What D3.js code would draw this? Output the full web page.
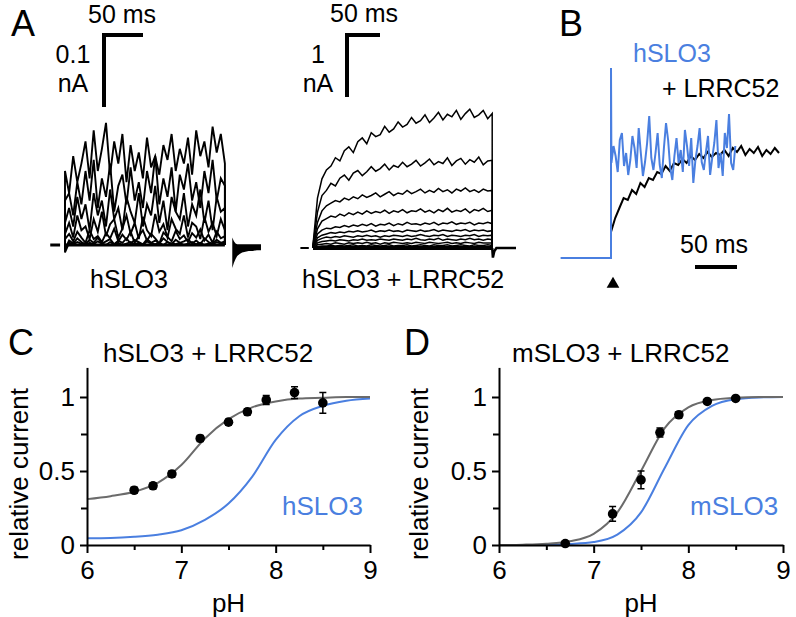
<!DOCTYPE html>
<html>
<head>
<meta charset="utf-8">
<script src="https://cdn.jsdelivr.net/npm/d3@7"></script>
<style>
  body { margin: 0; background: #fff; }
  svg { display: block; }
  text { font-family: "Liberation Sans", Arial, Helvetica, sans-serif; }
</style>
</head>
<body>
<div id="chart"></div>
<script>
// ---------- data ----------

// panel A, hSLO3 alone: currents in pA, one sample every 5 ms
var hsloDt = 5;
var hsloTraces = [
  [100, 70, 120, 85, 110, 140, 90, 155, 100, 130, 165, 95, 140, 110, 150, 85, 135, 100, 125, 90, 145, 105, 120, 95, 135, 115, 150, 100, 130, 110, 145, 95, 155, 120, 140, 105, 160, 125, 150, 110],
  [60, 70, 40, 85, 55, 100, 60, 115, 50, 90, 65, 110, 45, 80, 95, 55, 105, 60, 85, 50, 100, 70, 120, 55, 90, 65, 105, 45, 95, 75, 110, 60, 85, 50, 100, 70, 115, 60, 90, 80],
  [30, 50, 25, 65, 35, 55, 20, 70, 40, 60, 25, 75, 35, 50, 20, 65, 45, 30, 70, 25, 55, 40, 80, 30, 60, 20, 65, 45, 35, 70, 25, 55, 40, 75, 30, 60, 20, 65, 45, 50],
  [15, 30, 10, 40, 20, 25, 8, 35, 18, 45, 12, 28, 35, 10, 22, 40, 15, 30, 8, 38, 20, 12, 42, 18, 28, 10, 35, 22, 15, 40, 10, 30, 25, 8, 38, 18, 30, 12, 35, 20],
  [8, 15, 5, 18, 10, 3, 20, 8, 12, 4, 16, 9, 22, 5, 14, 7, 18, 3, 12, 20, 6, 15, 9, 2, 17, 11, 5, 19, 8, 13, 4, 16, 10, 21, 6, 14, 3, 18, 9, 12],
  [-6, 6, 2, 9, 4, 1, 7, 3, 10, 2, 5, 8, 1, 6, 3, 9, 2, 7, 4, 1, 8, 3, 6, 2, 9, 4, 1, 7, 3, 5, 8, 2, 6, 1, 9, 4, 2, 7, 3, 5],
  [-10, 3, 1, 4, 2, 0, 3, 1, 5, 2, 0, 4, 1, 3, 0, 2, 4, 1, 3, 0, 5, 2, 1, 3, 0, 4, 2, 1, 3, 0, 2, 4, 1, 3, 0, 2, 1, 4, 2, 3]
];
// tail currents after the step (ms after 204 ms, pA)
var hsloTailStart = 204;
var hsloTailT = [0, 2, 4, 6, 9, 12, 16, 20, 25, 30, 35];
var hsloTailTop = [10, 5, 2, 1, 1, 1, 1, 1, 1, 1, 1];
var hsloTailBottom = [-31, -24, -19, -15, -12, -10, -9, -8, -8, -7, -7];

// panel A, hSLO3 + LRRC52: currents in nA, one sample every 6.4 ms
var lrrcDt = 6.4;
var lrrcTraces = [
  [0.05, 0.78, 1.08, 1.22, 1.28, 1.41, 1.36, 1.52, 1.58, 1.49, 1.66, 1.72, 1.63, 1.80, 1.74, 1.77, 1.90, 1.81, 1.86, 1.97, 1.89, 1.93, 2.04, 1.95, 1.99, 2.08, 1.96, 2.03, 2.12, 2.00, 2.09, 2.05, 2.15, 2.01, 2.10, 2.17, 2.04, 2.08, 2.15, 2.02, 2.10],
  [0.05, 0.56, 0.82, 0.90, 1.01, 0.97, 1.09, 1.14, 1.06, 1.17, 1.21, 1.13, 1.19, 1.27, 1.20, 1.24, 1.31, 1.22, 1.29, 1.26, 1.34, 1.27, 1.31, 1.37, 1.28, 1.33, 1.39, 1.30, 1.35, 1.32, 1.41, 1.29, 1.36, 1.40, 1.31, 1.38, 1.34, 1.42, 1.30, 1.36, 1.37],
  [0.03, 0.40, 0.58, 0.66, 0.70, 0.74, 0.72, 0.78, 0.75, 0.80, 0.77, 0.83, 0.79, 0.82, 0.86, 0.80, 0.84, 0.88, 0.82, 0.86, 0.84, 0.90, 0.85, 0.88, 0.92, 0.86, 0.90, 0.87, 0.93, 0.88, 0.91, 0.86, 0.92, 0.89, 0.94, 0.88, 0.91, 0.87, 0.92, 0.89, 0.90],
  [0.02, 0.30, 0.42, 0.46, 0.50, 0.48, 0.53, 0.50, 0.55, 0.52, 0.56, 0.53, 0.58, 0.54, 0.57, 0.55, 0.59, 0.54, 0.58, 0.56, 0.60, 0.55, 0.58, 0.57, 0.61, 0.56, 0.59, 0.55, 0.60, 0.57, 0.62, 0.56, 0.59, 0.57, 0.61, 0.55, 0.60, 0.58, 0.62, 0.57, 0.59],
  [0.02, 0.22, 0.28, 0.31, 0.30, 0.33, 0.32, 0.35, 0.33, 0.36, 0.34, 0.37, 0.35, 0.38, 0.34, 0.37, 0.36, 0.39, 0.35, 0.38, 0.36, 0.40, 0.37, 0.38, 0.36, 0.39, 0.37, 0.40, 0.36, 0.39, 0.38, 0.41, 0.37, 0.39, 0.38, 0.40, 0.36, 0.39, 0.38, 0.40, 0.38],
  [0.01, 0.16, 0.20, 0.22, 0.24, 0.23, 0.25, 0.24, 0.26, 0.25, 0.27, 0.25, 0.26, 0.28, 0.25, 0.27, 0.26, 0.28, 0.26, 0.27, 0.25, 0.28, 0.27, 0.26, 0.28, 0.26, 0.27, 0.29, 0.26, 0.28, 0.27, 0.26, 0.28, 0.27, 0.29, 0.26, 0.28, 0.27, 0.28, 0.26, 0.27],
  [0.01, 0.12, 0.15, 0.17, 0.16, 0.18, 0.17, 0.19, 0.18, 0.17, 0.19, 0.18, 0.20, 0.18, 0.19, 0.17, 0.19, 0.18, 0.20, 0.19, 0.18, 0.20, 0.18, 0.19, 0.21, 0.19, 0.18, 0.20, 0.19, 0.21, 0.18, 0.20, 0.19, 0.18, 0.20, 0.19, 0.21, 0.18, 0.20, 0.19, 0.20],
  [0.01, 0.08, 0.10, 0.11, 0.12, 0.11, 0.13, 0.12, 0.11, 0.13, 0.12, 0.14, 0.12, 0.13, 0.12, 0.14, 0.13, 0.12, 0.14, 0.13, 0.12, 0.14, 0.13, 0.15, 0.13, 0.12, 0.14, 0.13, 0.15, 0.12, 0.14, 0.13, 0.12, 0.14, 0.13, 0.15, 0.13, 0.14, 0.12, 0.14, 0.13],
  [0, 0.05, 0.06, 0.07, 0.06, 0.08, 0.07, 0.06, 0.08, 0.07, 0.08, 0.07, 0.09, 0.07, 0.08, 0.06, 0.08, 0.07, 0.09, 0.08, 0.07, 0.08, 0.07, 0.09, 0.08, 0.07, 0.09, 0.08, 0.07, 0.08, 0.09, 0.07, 0.08, 0.07, 0.09, 0.08, 0.07, 0.09, 0.08, 0.08, 0.08],
  [0, 0.02, 0.03, 0.03, 0.04, 0.03, 0.04, 0.03, 0.04, 0.05, 0.03, 0.04, 0.03, 0.05, 0.04, 0.03, 0.04, 0.05, 0.03, 0.04, 0.04, 0.05, 0.03, 0.04, 0.05, 0.04, 0.03, 0.05, 0.04, 0.04, 0.05, 0.03, 0.04, 0.05, 0.04, 0.03, 0.05, 0.04, 0.04, 0.05, 0.04]
];
var lrrcTailT = [0, 1, 3, 6, 34];
var lrrcTailV = [0, -0.15, -0.05, 0, 0];

// panel B: normalised currents, blue every 2.5 ms, black every 5 ms
var bSpike = 1.9;
var bBlueDt = 2.5;
var bBlue = [0.95, 1.12, 1.02, 0.86, 1.18, 1.25, 0.92, 1.05, 0.83, 0.98, 1.22, 1.10, 0.90, 1.30, 1.05, 0.82, 0.96, 1.15, 1.42, 1.00,
             0.88, 1.05, 1.25, 0.93, 0.80, 1.10, 1.35, 1.18, 0.90, 0.78, 1.02, 1.20, 0.95, 1.08, 0.86, 1.28, 1.12, 0.92, 1.20, 0.75,
             0.98, 1.12, 1.30, 0.96, 0.88, 1.06, 1.22, 0.83, 1.00, 1.15, 1.38, 0.90, 1.05, 0.82, 1.25, 1.10, 1.44, 0.95, 0.88, 1.12];
var bBlackDt = 5;
var bBlack = [0.26, 0.40, 0.50, 0.60, 0.58, 0.68, 0.64, 0.75, 0.71, 0.80, 0.78, 0.86, 0.84, 0.92, 0.87, 0.95, 0.93, 0.99, 0.95, 1.02,
              0.98, 1.04, 1.00, 1.06, 1.01, 1.05, 1.03, 1.08, 1.02, 1.10, 1.06, 1.12, 1.03, 1.09, 1.05, 1.11, 1.02, 1.08, 1.04, 1.10, 1.05];

// panels C and D: pH dependence
var fitPH = [6, 6.25, 6.5, 6.75, 7, 7.25, 7.5, 7.75, 8, 8.25, 8.5, 8.75, 9];
var hFitLrrc = [0.31, 0.33, 0.36, 0.42, 0.54, 0.72, 0.85, 0.93, 0.97, 0.99, 0.995, 1.0, 1.0];
var hFitAlone = [0.045, 0.047, 0.055, 0.07, 0.10, 0.17, 0.28, 0.46, 0.71, 0.87, 0.94, 0.975, 0.99];
var mFitLrrc = [0, 0.002, 0.008, 0.025, 0.075, 0.22, 0.50, 0.79, 0.93, 0.98, 0.995, 1.0, 1.0];
var mFitAlone = [0, 0, 0.002, 0.007, 0.02, 0.07, 0.22, 0.52, 0.81, 0.94, 0.985, 0.997, 1.0];

var hPH = [6.5, 6.7, 6.9, 7.2, 7.5, 7.7, 7.9, 8.2, 8.5];
var hMean = [0.37, 0.40, 0.48, 0.72, 0.83, 0.90, 0.98, 1.03, 0.96];
var hErr = [0.02, 0.02, 0.02, 0.02, 0.02, 0.02, 0.03, 0.04, 0.07];
var mPH = [6.7, 7.2, 7.5, 7.7, 7.9, 8.2, 8.5];
var mMean = [0.01, 0.21, 0.44, 0.76, 0.88, 0.97, 0.99];
var mErr = [0.01, 0.05, 0.06, 0.03, 0.02, 0.01, 0.01];

var xTicks = [6, 7, 8, 9];
var xMinor = [6.5, 7.5, 8.5];
var yTicks = [0, 0.5, 1];
var yMinor = [0.25, 0.75];

// ---------- drawing ----------
var W = 796, H = 617;
var blue = "#4a7fe0", grey = "#6b6b6b";

var svg = d3.select("#chart").append("svg")
    .attr("width", W)
    .attr("height", H);
svg.append("rect").attr("width", W).attr("height", H).attr("fill", "#fff");

function txt(x, y, s, size, anchor, color) {
    return svg.append("text")
        .attr("x", x).attr("y", y)
        .attr("font-size", size)
        .attr("text-anchor", anchor || "start")
        .attr("fill", color || "#000")
        .text(s);
}

// step traces: start and end on the baseline
function stepPoints(vals, dt) {
    var pts = [[0, 0]];
    vals.forEach(function(v, i){ pts.push([i * dt, v]); });
    pts.push([(vals.length - 1) * dt, 0]);
    return pts;
}

// ---- A left ----
var xA1 = d3.scaleLinear().domain([0, 50]).range([65, 106]);
var yA1 = d3.scaleLinear().domain([0, 100]).range([245, 171]);
var lineA1 = d3.line().x(function(d){ return xA1(d[0]); }).y(function(d){ return yA1(d[1]); });

var gA1 = svg.append("g").attr("fill", "none").attr("stroke", "#000");
hsloTraces.slice().reverse().forEach(function(tr){
    gA1.append("path").attr("d", lineA1(stepPoints(tr, hsloDt))).attr("stroke-width", 1.9);
});
var hEnd = (hsloTraces[0].length - 1) * hsloDt;
gA1.append("path").attr("d", lineA1([[0, 0], [hEnd, 0]])).attr("stroke-width", 3);
gA1.append("path").attr("d", lineA1([[-18, 0], [-6, 0]])).attr("stroke-width", 3);

svg.append("path")
    .attr("fill", "#000")
    .attr("d", d3.area()
        .x(function(d, i){ return xA1(hsloTailStart + d); })
        .y0(function(d, i){ return yA1(hsloTailBottom[i]); })
        .y1(function(d, i){ return yA1(hsloTailTop[i]); })(hsloTailT));

// scale bar 50 ms / 0.1 nA
var a1W = xA1(50) - xA1(0), a1H = yA1(0) - yA1(100);
svg.append("path")
    .attr("d", "M104," + (35 + a1H - 2) + "V35H" + (102 + a1W))
    .attr("fill", "none").attr("stroke", "#000").attr("stroke-width", 4);
txt(88, 23, "50 ms", 25);
txt(73, 63, "0.1", 25, "middle");
txt(73, 92, "nA", 25, "middle");
txt(90, 288, "hSLO3", 25);

// ---- A right ----
var xA2 = d3.scaleLinear().domain([0, 50]).range([313, 348]);
var yA2 = d3.scaleLinear().domain([0, 1]).range([248, 184]);
var lineA2 = d3.line().x(function(d){ return xA2(d[0]); }).y(function(d){ return yA2(d[1]); });

var gA2 = svg.append("g").attr("fill", "none").attr("stroke", "#000");
lrrcTraces.forEach(function(tr){
    gA2.append("path").attr("d", lineA2(stepPoints(tr, lrrcDt))).attr("stroke-width", 1.5);
});
var lEnd = (lrrcTraces[0].length - 1) * lrrcDt;
gA2.append("path").attr("d", lineA2([[0, 0], [lEnd, 0]])).attr("stroke-width", 4);
gA2.append("path").attr("d", lineA2([[-18, 0], [-6, 0]])).attr("stroke-width", 2);
gA2.append("path").attr("d", lineA2(lrrcTailT.map(function(t, i){ return [lEnd + t, lrrcTailV[i]]; })))
    .attr("stroke-width", 2.5);

var a2W = xA2(50) - xA2(0), a2H = yA2(0) - yA2(1);
svg.append("path")
    .attr("d", "M347," + (35 + a2H - 2) + "V35H" + (345 + a2W))
    .attr("fill", "none").attr("stroke", "#000").attr("stroke-width", 4);
txt(330, 22, "50 ms", 25);
txt(318, 63, "1", 25, "middle");
txt(318, 92, "nA", 25, "middle");
txt(302, 288, "hSLO3 + LRRC52", 25);

// ---- B ----
var xB = d3.scaleLinear().domain([0, 50]).range([611, 653]);
var yB = d3.scaleLinear().domain([0, 1]).range([258, 158]);
var lineB = d3.line().x(function(d){ return xB(d[0]); }).y(function(d){ return yB(d[1]); });

var blackPts = [[0, 0]].concat(bBlack.map(function(v, i){ return [i * bBlackDt, v]; }));
svg.append("path").attr("d", lineB(blackPts))
    .attr("fill", "none").attr("stroke", "#000").attr("stroke-width", 2);

var bluePts = [[-60, 0], [0, 0], [0, bSpike]]
    .concat(bBlue.map(function(v, i){ return [0.5 + i * bBlueDt, v]; }));
svg.append("path").attr("d", lineB(bluePts))
    .attr("fill", "none").attr("stroke", blue).attr("stroke-width", 2);

svg.append("path")
    .attr("d", d3.symbol(d3.symbolTriangle, 70)())
    .attr("transform", "translate(" + (xB(0) + 2) + ",284)")
    .attr("fill", "#000");

svg.append("line")
    .attr("x1", 695).attr("x2", 695 + (xB(50) - xB(0)))
    .attr("y1", 267).attr("y2", 267)
    .attr("stroke", "#000").attr("stroke-width", 4);
txt(680, 253, "50 ms", 25);
txt(633, 62, "hSLO3", 25, "start", blue);
txt(662, 97, "+ LRRC52", 25);

// ---- C and D ----
function dosePanel(x0, x1, title, titleX, labX, blueName, blueX, fitL, fitA, ph, mean, err) {
    var x = d3.scaleLinear().domain([6, 9]).range([x0, x1]);
    var y = d3.scaleLinear().domain([0, 1.2]).range([545, 367.4]);
    var g = svg.append("g");

    var line = d3.line().curve(d3.curveMonotoneX)
        .x(function(d, i){ return x(fitPH[i]); })
        .y(function(d){ return y(d); });
    g.append("path").attr("d", line(fitA))
        .attr("fill", "none").attr("stroke", blue).attr("stroke-width", 2);
    g.append("path").attr("d", line(fitL))
        .attr("fill", "none").attr("stroke", grey).attr("stroke-width", 2);

    var gx = g.append("g").attr("transform", "translate(0,545)");
    gx.call(d3.axisBottom(x).tickValues(xTicks).tickSize(8).tickSizeOuter(0).tickPadding(8)
        .tickFormat(function(d){ return String(d); }));
    gx.append("g").call(d3.axisBottom(x).tickValues(xMinor).tickSize(5).tickFormat(""))
        .select(".domain").remove();

    var gy = g.append("g").attr("transform", "translate(" + x0 + ",0)");
    gy.call(d3.axisLeft(y).tickValues(yTicks).tickSize(7).tickSizeOuter(0).tickPadding(5)
        .tickFormat(function(d){ return String(d); }));
    gy.append("g").call(d3.axisLeft(y).tickValues(yMinor).tickSize(6).tickFormat(""))
        .select(".domain").remove();

    g.selectAll(".domain, .tick line").attr("stroke", "#000").attr("stroke-width", 2);
    g.selectAll(".tick text")
        .attr("font-size", 26)
        .attr("font-family", "'Liberation Sans', Arial, Helvetica, sans-serif")
        .attr("fill", "#000");

    var pts = g.append("g");
    ph.forEach(function(p, i){
        var cx = x(p);
        var lo = y(mean[i] - err[i]), hi = y(mean[i] + err[i]);
        pts.append("path")
            .attr("d", "M" + cx + "," + lo + "V" + hi +
                 "M" + (cx - 3.5) + "," + lo + "H" + (cx + 3.5) +
                 "M" + (cx - 3.5) + "," + hi + "H" + (cx + 3.5))
            .attr("stroke", "#000").attr("stroke-width", 1.5).attr("fill", "none");
        pts.append("circle").attr("cx", cx).attr("cy", y(mean[i])).attr("r", 4.8).attr("fill", "#000");
    });

    txt(titleX, 362, title, 26);
    txt(blueX, 515, blueName, 26, "start", blue);
    txt((x0 + x1) / 2, 612, "pH", 26, "middle");
    svg.append("text")
        .attr("transform", "translate(" + labX + ",474) rotate(-90)")
        .attr("text-anchor", "middle")
        .attr("font-size", 26)
        .text("relative current");
}

dosePanel(87, 370, "hSLO3 + LRRC52", 103, 28, "hSLO3", 282, hFitLrrc, hFitAlone, hPH, hMean, hErr);
dosePanel(499, 783, "mSLO3 + LRRC52", 512, 428, "mSLO3", 690, mFitLrrc, mFitAlone, mPH, mMean, mErr);

// panel letters
txt(11, 36, "A", 36);
txt(559, 36, "B", 36);
txt(8, 355, "C", 36);
txt(404, 355, "D", 36);
</script>
</body>
</html>
